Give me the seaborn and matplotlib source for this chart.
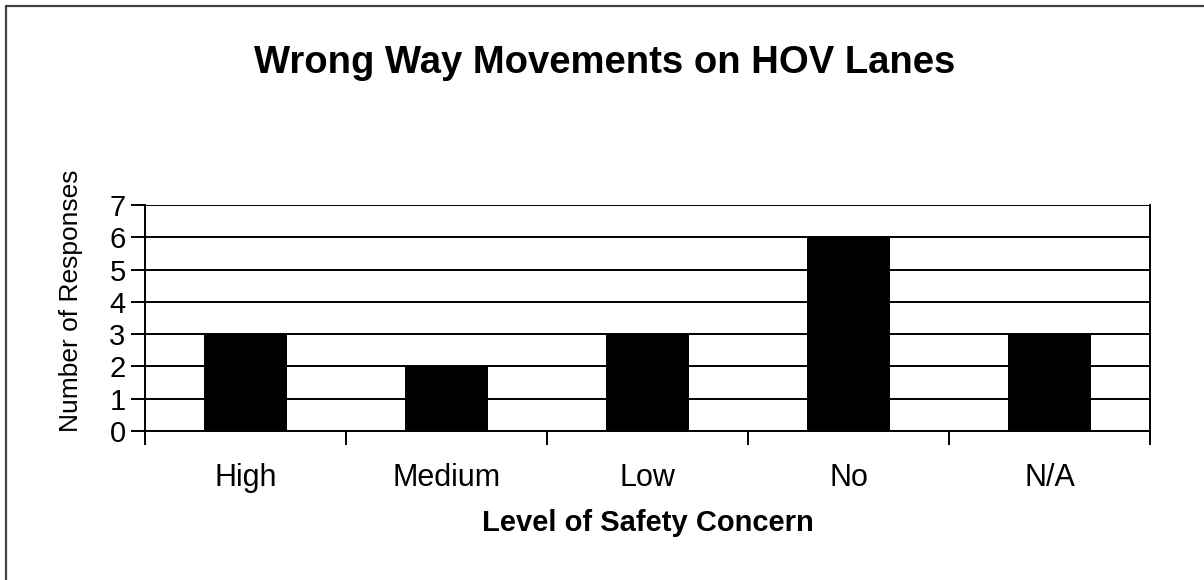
import matplotlib
matplotlib.use("Agg")
import matplotlib.pyplot as plt
import seaborn as sns
import pandas as pd
from matplotlib.lines import Line2D

# data
categories = ['High', 'Medium', 'Low', 'No', 'N/A']
responses = [3, 2, 3, 6, 3]
y_ticks = [0, 1, 2, 3, 4, 5, 6, 7]

sns.set_style('white')
plt.rcParams['font.family'] = ['Liberation Sans', 'DejaVu Sans']
plt.rcParams['text.color'] = 'black'
plt.rcParams['axes.labelcolor'] = 'black'
plt.rcParams['xtick.color'] = 'black'
plt.rcParams['ytick.color'] = 'black'

df = pd.DataFrame({'level': categories, 'count': responses})

fig = plt.figure(figsize=(12.04, 5.80), dpi=100)
ax = fig.add_axes([145 / 1204, 1 - 431 / 580, (1150 - 145) / 1204, (431 - 205) / 580])

sns.barplot(data=df, x='level', y='count', order=categories, color='black',
            width=0.41, saturation=1, linewidth=0, ax=ax, zorder=3)

ax.set_ylim(0, 7)
ax.set_xlim(-0.5, len(categories) - 0.5)
ax.set_yticks(y_ticks)
ax.set_yticklabels([str(v) for v in y_ticks], fontsize=21)
ax.grid(axis='y', color='black', linewidth=1.4, zorder=0)
ax.set_axisbelow(True)

# category labels centred, tick marks at category boundaries
ax.set_xticks(range(len(categories)))
ax.set_xticklabels(categories, fontsize=22)
ax.set_xticks([i - 0.5 for i in range(len(categories) + 1)], minor=True)
ax.tick_params(axis='x', which='major', bottom=True, length=0, pad=23)
ax.tick_params(axis='x', which='minor', bottom=True, length=10, width=1.4,
               color='black', direction='out')
ax.tick_params(axis='y', left=True, length=10, width=1.4, color='black',
               direction='out', pad=4)

for side in ['left', 'bottom', 'right']:
    ax.spines[side].set_color('black')
    ax.spines[side].set_linewidth(1.4)
ax.spines['top'].set_visible(False)

ax.set_ylabel('Number of Responses', fontsize=19)
ax.yaxis.set_label_coords(-0.062, 0.575)
ax.set_xlabel('Level of Safety Concern', fontsize=21, fontweight='bold')
ax.xaxis.set_label_coords(0.5, -0.345)

fig.text(0.5025, 1 - 63 / 580, 'Wrong Way Movements on HOV Lanes', ha='center', va='center',
         fontsize=27.5, fontweight='bold')

# chart area border (top and left edges visible)
fig.add_artist(Line2D([6 / 1204, 6 / 1204], [0, 1 - 6 / 580], transform=fig.transFigure,
                      color='#404040', linewidth=1.6))
fig.add_artist(Line2D([6 / 1204, 1], [1 - 6 / 580, 1 - 6 / 580], transform=fig.transFigure,
                      color='#404040', linewidth=1.6))

fig.savefig('out.png', dpi=100, facecolor='white')
plt.close(fig)
